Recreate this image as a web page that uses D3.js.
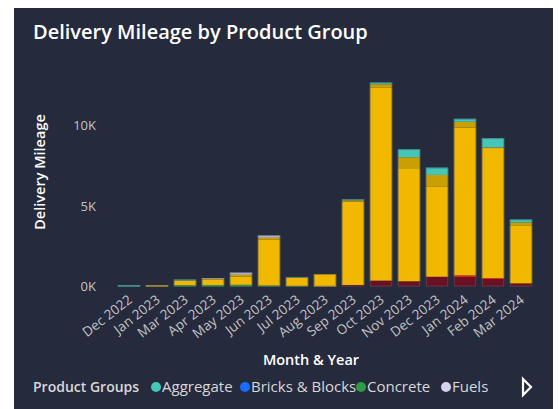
<!DOCTYPE html>
<html>
<head>
<meta charset="utf-8">
<script src="https://cdn.jsdelivr.net/npm/d3@7"></script>
<style>
  body { margin: 0; background: #fff; }
  svg text { font-family: "Segoe UI", "Open Sans", "Noto Sans", sans-serif; }
</style>
</head>
<body>
<div id="chart"></div>
<script>
"use strict";

// Month categories on the x axis
const months = ["Dec 2022", "Jan 2023", "Mar 2023", "Apr 2023", "May 2023", "Jun 2023",
                "Jul 2023", "Aug 2023", "Sep 2023", "Oct 2023", "Nov 2023", "Dec 2023",
                "Jan 2024", "Feb 2024", "Mar 2024"];

// Delivery mileage per product group
const aggregate    = [100, 0, 60, 0, 0, 0, 40, 0, 60, 110, 500, 460, 190, 580, 190];
const bricksBlocks = [0, 0, 0, 0, 0, 0, 0, 0, 0, 0, 0, 0, 0, 0, 0];
const concrete     = [0, 0, 90, 100, 110, 60, 30, 0, 0, 0, 0, 0, 0, 0, 0];
const fuels        = [0, 0, 0, 60, 120, 120, 0, 0, 0, 0, 0, 0, 0, 0, 0];
const sand         = [0, 100, 290, 320, 520, 2870, 530, 780, 5180, 12000, 6970, 5580, 9180, 8070, 3570];
const cement       = [0, 0, 0, 50, 120, 120, 0, 0, 80, 190, 730, 740, 350, 40, 210];
const steel        = [0, 0, 0, 0, 0, 0, 0, 0, 0, 0, 0, 0, 100, 60, 0];
const tarmac       = [0, 0, 0, 0, 0, 0, 0, 0, 100, 370, 330, 610, 600, 470, 200];

// Groups in stack order (bottom -> top)
const stackGroups = ["Tarmac", "Steel", "Concrete", "Sand", "Cement", "Fuels", "Bricks & Blocks", "Aggregate"];
const groupValues = [tarmac, steel, concrete, sand, cement, fuels, bricksBlocks, aggregate];
const groupColors = ["#6b1024", "#d92a1c", "#2e9c45", "#f2b800", "#c9a004", "#d6d3f0", "#1a6cff", "#44c6b8"];

// Legend entries that fit in the visual
const legendGroups = ["Aggregate", "Bricks & Blocks", "Concrete", "Fuels"];

const yTicks = [0, 5000, 10000];

const W = 559, H = 409;
const colorOf = d3.scaleOrdinal().domain(stackGroups).range(groupColors);

// Build table for d3.stack
const rows = months.map(function(m, i) {
  let row = {month: m};
  stackGroups.forEach(function(g, k) { row[g] = groupValues[k][i]; });
  return row;
});

let svg = d3.select("#chart").append("svg")
  .attr("width", W)
  .attr("height", H);

// Card background
svg.append("rect")
  .attr("x", 14).attr("y", 8)
  .attr("width", 539).attr("height", H - 8)
  .attr("fill", "#252a3d");

// Title
svg.append("text")
  .attr("x", 33).attr("y", 39)
  .text("Delivery Mileage by Product Group")
  .attr("font-size", "20px")
  .attr("font-weight", 600)
  .attr("fill", "#ffffff");

let x = d3.scaleBand()
  .domain(months)
  .range([115, 535])
  .paddingInner(0.2)
  .paddingOuter(0.1);

let y = d3.scaleLinear()
  .domain([0, 10000])
  .range([286.6, 125.5]);

let series = d3.stack().keys(stackGroups)(rows);

// Stacked bars
svg.append("g")
  .selectAll("g")
  .data(series)
  .join("g")
  .attr("fill", d => colorOf(d.key))
  .selectAll("rect")
  .data(d => d)
  .join("rect")
  .attr("x", d => x(d.data.month))
  .attr("y", d => y(d[1]))
  .attr("width", x.bandwidth())
  .attr("height", d => Math.max(0, y(d[0]) - y(d[1])));

// Faint outline around each column
let topLayer = series[series.length - 1];
svg.append("g")
  .selectAll("rect")
  .data(topLayer)
  .join("rect")
  .attr("x", d => x(d.data.month) + 0.5)
  .attr("y", d => y(d[1]) + 0.5)
  .attr("width", x.bandwidth() - 1)
  .attr("height", d => Math.max(0, y(0) - y(d[1]) - 1))
  .attr("fill", "none")
  .attr("stroke", "#4f6068")
  .attr("stroke-opacity", 0.55)
  .attr("stroke-width", 1);

// Y axis
let yAxis = svg.append("g")
  .attr("transform", "translate(115,0)")
  .call(d3.axisLeft(y).tickValues(yTicks).tickSize(0).tickPadding(19)
    .tickFormat(d => (d / 1000) + "K"));
yAxis.select(".domain").remove();
yAxis.selectAll("text")
  .attr("font-size", "13px")
  .attr("fill", "#c4c4c4")
  .style("font-family", null);

// X axis
let xAxis = svg.append("g")
  .attr("transform", "translate(0," + y(0) + ")")
  .call(d3.axisBottom(x).tickSize(0));
xAxis.select(".domain").remove();
xAxis.selectAll("text")
  .attr("x", 0).attr("y", 0).attr("dy", 0)
  .attr("text-anchor", "end")
  .attr("transform", "translate(4,15) rotate(-38)")
  .attr("font-size", "13.5px")
  .attr("fill", "#c4c4c4")
  .style("font-family", null);

// Axis titles
svg.append("text")
  .attr("transform", "translate(45,172) rotate(-90)")
  .attr("text-anchor", "middle")
  .text("Delivery Mileage")
  .attr("font-size", "14.5px")
  .attr("font-weight", 600)
  .attr("fill", "#ffffff");

svg.append("text")
  .attr("x", 311).attr("y", 365)
  .attr("text-anchor", "middle")
  .text("Month & Year")
  .attr("font-size", "14.5px")
  .attr("font-weight", 600)
  .attr("fill", "#ffffff");

// Legend
let legend = svg.append("g").attr("transform", "translate(0,392)");
legend.append("text")
  .attr("x", 33).attr("y", 0)
  .text("Product Groups")
  .attr("font-size", "14px")
  .attr("font-weight", 600)
  .attr("fill", "#d8d8d8");

let legendX = [156, 245, 361, 446];
legendGroups.forEach(function(g, i) {
  legend.append("circle")
    .attr("cx", legendX[i]).attr("cy", -5)
    .attr("r", 5)
    .attr("fill", colorOf(g));
  legend.append("text")
    .attr("x", legendX[i] + 6).attr("y", 0)
    .text(g)
    .attr("font-size", "15px")
    .attr("fill", "#d8d8d8");
});

// Legend scroll arrow
svg.append("path")
  .attr("d", "M523,379 L531,387 L523,395 Z")
  .attr("fill", "none")
  .attr("stroke", "#ffffff")
  .attr("stroke-width", 2.2)
  .attr("stroke-linejoin", "miter");
</script>
</body>
</html>
